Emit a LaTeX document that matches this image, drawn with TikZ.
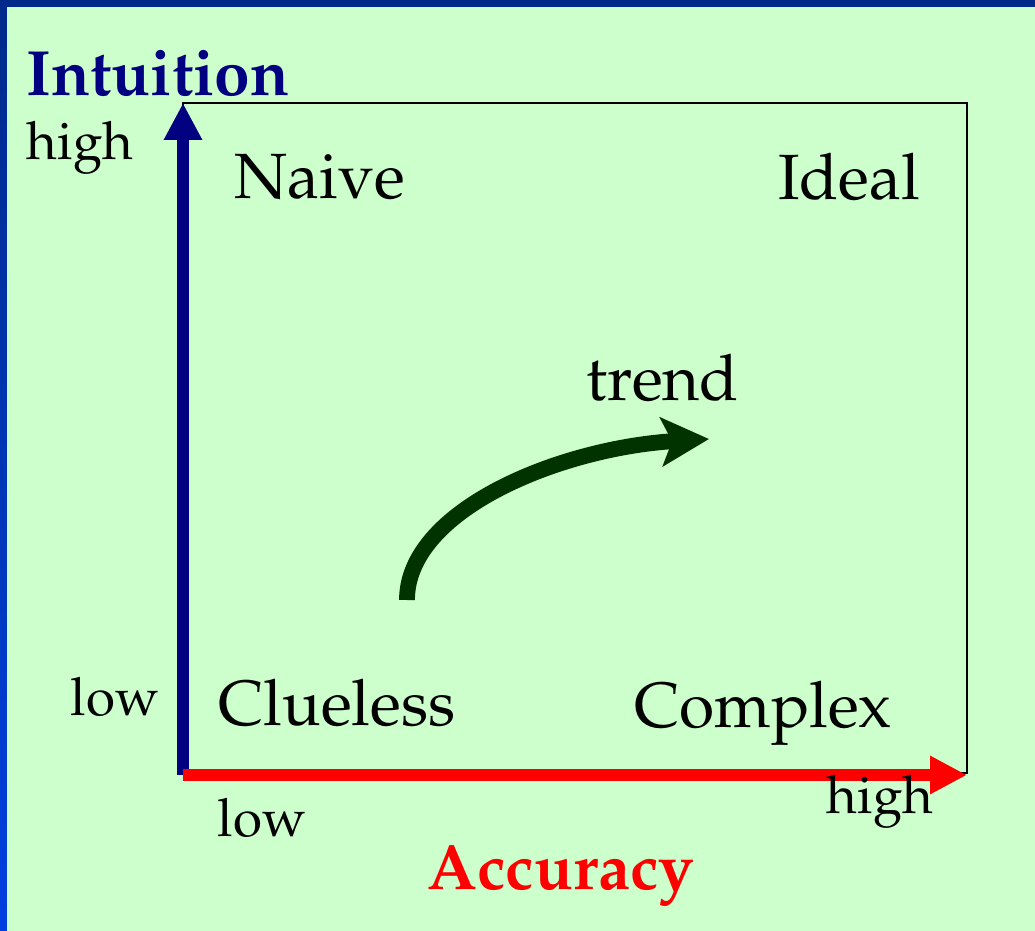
\documentclass[tikz,border=0pt]{standalone}
\usepackage[T1]{fontenc}
\usepackage{mathpazo}
\usetikzlibrary{arrows.meta}

\definecolor{bggreen}{HTML}{CCFFCC}
\definecolor{topblue}{HTML}{002A8A}
\definecolor{edgeblue}{HTML}{0040E0}
\definecolor{axisnavy}{HTML}{000080}
\definecolor{trendgreen}{HTML}{003300}

\begin{document}
\begin{tikzpicture}[
x=0.01cm, y=-0.01cm,
every node/.style={
inner sep=0pt
},
quadrant/.style={font=\fontsize{18.2}{22}\selectfont},
level/.style={font=\fontsize{15}{18}\selectfont},
axistitle/.style={font=\fontsize{18.2}{22}\selectfont\bfseries},
axisline/.style={line width=3.3pt, -{Triangle[length=10.5pt, width=10.2pt]}},
trendline/.style={draw=trendgreen, line width=4.5pt,
-{Stealth[length=13.5pt, width=13.8pt, inset=3pt]}}
]

% background and frame edges
\fill[bggreen] (0,0) rectangle (1035,931);
\fill[topblue] (0,0) rectangle (1035,7);
\shade[top color=topblue, bottom color=edgeblue] (0,0) rectangle (7,931);

\draw (183,103) rectangle (967,773);

\coordinate (O) at (183,775);
\coordinate (ytop) at (183,103);
\coordinate (xend) at (967,775);

\draw[axisline, axisnavy] (O) -- (ytop);
\draw[axisline, red] (O) -- (xend);

\node[axistitle, text=axisnavy] (intuition) at (158,73)
{Intuition};

\node[axistitle, text=red] (accuracy) at (561,875)
{Accuracy};

\node[level] (yhigh) at (80,148)
{high};

\node[level] (ylow) at (115,697)
{low};

\node[level] (xlow) at (262,818)
{low};

\node[level] (xhigh) at (880,802)
{high};

\node[quadrant] (naive) at (320,177)
{Naive};

\node[quadrant] (ideal) at (849,177)
{Ideal};

\node[quadrant] (clueless) at (337,703)
{Clueless};

\node[quadrant] (complex) at (763,713)
{Complex};

\node[quadrant] (trend) at (663,378)
{trend};

\coordinate (tstart) at (407,600);
\coordinate (tend) at (709,439);

\draw[trendline] (tstart) .. controls (407,510) and (560,448) .. (tend);

\end{tikzpicture}
\end{document}
